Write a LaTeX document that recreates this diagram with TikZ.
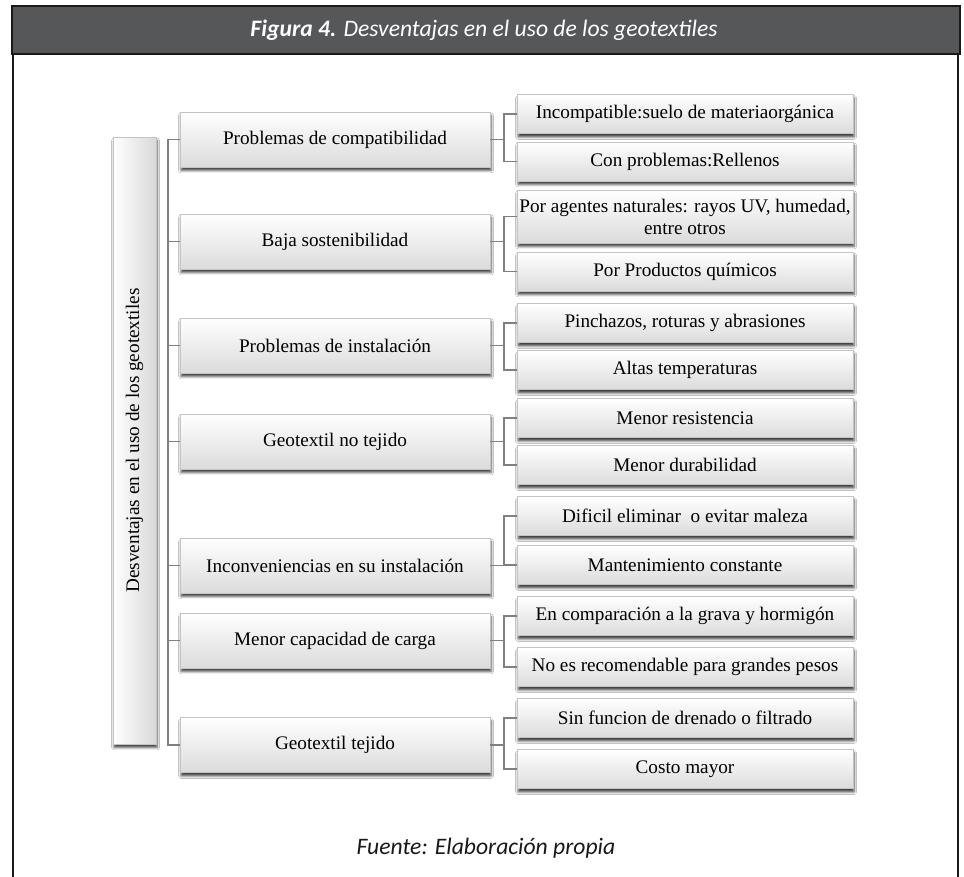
\documentclass[tikz,border=0pt]{standalone}
\usepackage{fontspec}
\setmainfont{Liberation Serif}
\newfontfamily\capfont{Carlito}
\usetikzlibrary{shadows.blur}
\definecolor{headgray}{HTML}{555759}
\definecolor{linkgray}{HTML}{808080}
\definecolor{boxline}{HTML}{C4C4C4}
\begin{document}
\begin{tikzpicture}[x=0.75pt,y=-0.75pt,
  box/.style={draw=boxline, line width=0.5pt, inner sep=1pt, align=center,
    font=\fontsize{14.4}{16.5}\selectfont,
    blur shadow={shadow xshift=0.8pt, shadow yshift=-2.6pt,
      shadow blur radius=1.8pt, shadow opacity=75}},
  vbox/.style={box, top color=white, bottom color=black!14},
  lvlone/.style={vbox, minimum width=310*0.75pt, minimum height=55*0.75pt},
  lvltwo/.style={vbox, minimum width=336*0.75pt, minimum height=39*0.75pt},
  rootbox/.style={box, left color=white, right color=black!15,
    minimum width=43*0.75pt, minimum height=607*0.75pt},
  link/.style={draw=linkgray, line width=1.4pt},
  frame/.style={draw=black!90, line width=1.8pt}
]
\useasboundingbox (0,0) rectangle (964,876);
\fill[white] (0,0) rectangle (964,876);

% frame and title bar
\draw[frame] (13,54) -- (13,880);
\draw[frame] (958,54) -- (958,880);
\draw[frame, fill=headgray] (12,6) rectangle (960,54);
\node[text=white, font=\capfont\fontsize{17.7}{21}\selectfont] (title) at (484,30)
  {\textbf{\textit{Figura 4.}} \textit{Desventajas en el uso de los geotextiles}};

% root
\node[rootbox] (root) at (134.5,440.5)
  {\rotatebox{90}{Desventajas en el uso de los geotextiles}};

% first level
\node[lvlone] (a1) at (335,139.5) {Problemas de compatibilidad};
\node[lvlone] (a2) at (335,241.5) {Baja sostenibilidad};
\node[lvlone] (a3) at (335,345.5) {Problemas de instalación};
\node[lvlone] (a4) at (335,441.5) {Geotextil no tejido};
\node[lvlone] (a5) at (335,565.5) {Inconveniencias en su instalación};
\node[lvlone] (a6) at (335,640.5) {Menor capacidad de carga};
\node[lvlone] (a7) at (335,745) {Geotextil tejido};

% second level
\node[lvltwo] (b1)  at (685,114) {Incompatible:suelo de materiaorgánica};
\node[lvltwo] (b2)  at (685,161.5) {Con problemas:Rellenos};
\node[lvltwo, minimum height=53*0.75pt] (b3) at (685,216.5)
  {Por agentes naturales: rayos UV, humedad,\\ entre otros};
\node[lvltwo] (b4)  at (685,271.5) {Por Productos químicos};
\node[lvltwo] (b5)  at (685,323) {Pinchazos, roturas y abrasiones};
\node[lvltwo] (b6)  at (685,370) {Altas temperaturas};
\node[lvltwo] (b7)  at (685,418) {Menor resistencia};
\node[lvltwo] (b8)  at (685,465) {Menor durabilidad};
\node[lvltwo] (b9)  at (685,516) {Dificil eliminar \ o evitar maleza};
\node[lvltwo] (b10) at (685,565) {Mantenimiento constante};
\node[lvltwo] (b11) at (685,616) {En comparación a la grava y hormigón};
\node[lvltwo] (b12) at (685,667) {No es recomendable para grandes pesos};
\node[lvltwo] (b13) at (685,718) {Sin funcion de drenado o filtrado};
\node[lvltwo] (b14) at (685,769) {Costo mayor};

% trunk from the root list
\draw[link] (a1.west) -- ++(-12,0) |- (a7.west);
\foreach \n in {a2,a3,a4,a5,a6}
  \draw[link] (\n.west) -- ++(-12,0);

% brackets to the second level
\foreach \p/\c/\d in {a1/b1/b2, a2/b3/b4, a3/b5/b6, a4/b7/b8,
                      a5/b9/b10, a6/b11/b12, a7/b13/b14}{
  \draw[link] (\p.east) -- ++(14,0) |- (\c.west);
  \draw[link] (\p.east) -- ++(14,0) |- (\d.west);
}

% source line
\node[font=\capfont\fontsize{17.7}{21}\selectfont\itshape, text=black!90] (src) at (486,848)
  {Fuente: Elaboración propia};
\end{tikzpicture}
\end{document}
